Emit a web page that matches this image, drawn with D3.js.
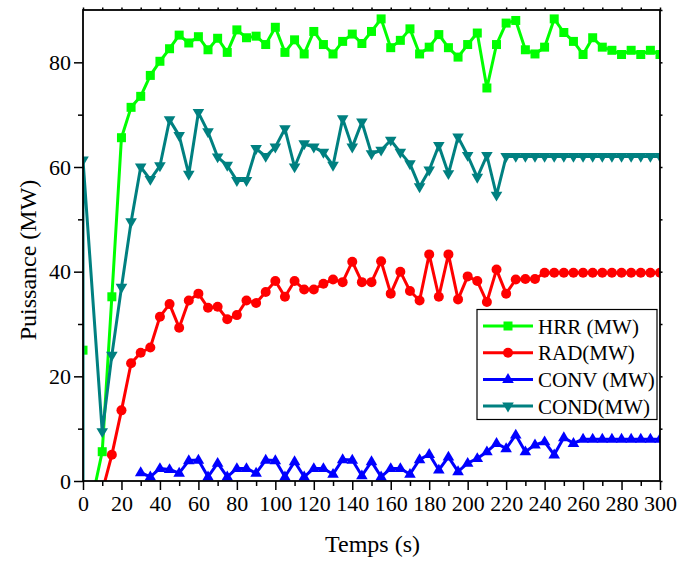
<!DOCTYPE html>
<html>
<head>
<meta charset="utf-8">
<script src="https://cdn.jsdelivr.net/npm/d3@7"></script>
<style>
  html, body { margin: 0; padding: 0; background: #fff; }
  svg { display: block; }
  text { font-family: "Liberation Serif", "Times New Roman", serif; fill: #000; }
</style>
</head>
<body>
<svg id="chart" width="679" height="561"></svg>
<script>
// Time in seconds, sampled every 5 s
const time = d3.range(0, 301, 5);

// Heat release rate (MW); first reading stands alone as a marker
const hrr = [25, -3, 5.6, 35.2, 65.6, 71.4, 73.5, 77.5, 80.2, 82.6,
  85.2, 83.7, 84.9, 82.4, 84.6, 81.9, 86.2, 84.7, 85.0, 83.4,
  86.7, 81.9, 84.3, 81.6, 85.9, 83.4, 81.6, 84.0, 85.4, 83.6,
  85.9, 88.3, 82.8, 84.2, 86.4, 81.6, 82.9, 85.3, 82.8, 81.0,
  83.4, 85.6, 75.1, 83.4, 87.5, 88.0, 82.4, 81.6, 82.9, 88.3,
  85.7, 84.0, 81.5, 84.7, 82.9, 82.3, 81.5, 82.3, 81.5, 82.3, 81.5];

// Radiative power (MW)
const rad = [null, null, -2, 5.0, 13.5, 22.5, 24.5, 25.5, 31.4, 33.8,
  29.3, 34.5, 35.8, 33.1, 33.3, 30.9, 31.7, 34.5, 34.0, 36.1,
  38.2, 35.2, 38.2, 36.6, 36.6, 37.7, 38.5, 38.0, 41.9, 38.0,
  38.0, 42.0, 35.8, 40.0, 36.3, 34.5, 43.3, 35.2, 43.3, 34.7,
  39.1, 38.2, 34.2, 40.4, 35.8, 38.5, 38.6, 38.6, 39.8, 39.8,
  39.8, 39.8, 39.8, 39.8, 39.8, 39.8, 39.8, 39.8, 39.8, 39.8, 39.8];

// Convective power (MW)
const conv = [null, null, null, null, null, null, 1.6, 0.8, 2.4, 2.2,
  1.5, 3.9, 4.0, 0.8, 3.4, 0.8, 2.4, 2.4, 1.5, 4.0,
  3.9, 0.8, 3.7, 0.8, 2.4, 2.4, 1.3, 4.1, 4.0, 1.0,
  3.7, 0.8, 2.4, 2.4, 1.3, 4.1, 5.1, 2.1, 4.6, 1.8,
  3.4, 4.3, 5.6, 7.2, 6.2, 8.8, 5.6, 6.9, 7.5, 5.0,
  8.3, 7.2, 8.0, 8.0, 8.0, 8.0, 8.0, 8.0, 8.0, 8.0, 8.0];

// Conductive power (MW); the trace rises from the axis at t = 0
const condBase = 0;
const cond = [61.3, null, 9.4, 24.0, 37.0, 49.5, 60.0, 57.6, 60.2, 69.0,
  66.0, 58.6, 70.4, 66.7, 61.9, 60.3, 57.4, 57.4, 63.5, 62.0,
  63.8, 67.3, 60.0, 64.4, 63.8, 62.8, 60.3, 69.2, 63.8, 68.6,
  62.5, 63.2, 65.1, 62.8, 60.6, 56.2, 59.4, 64.1, 58.7, 65.7,
  62.2, 58.0, 62.2, 54.6, 62.0, 62.0, 62.0, 62.0, 62.0, 62.0,
  62.0, 62.0, 62.0, 62.0, 62.0, 62.0, 62.0, 62.0, 62.0, 62.0, 62.0];

const seriesNames = ["HRR (MW)", "RAD(MW)", "CONV (MW)", "COND(MW)"];
const seriesColors = ["#00ff00", "#ff0000", "#0000ff", "#008080"];
const seriesShapes = ["square", "circle", "triangleUp", "triangleDown"];

const xTicks = d3.range(0, 301, 20);
const yTicks = d3.range(0, 81, 20);

(function draw() {
  const svg = d3.select("#chart");
  const pl = 83, pr = 660, pt = 10, pb = 481;

  const x = d3.scaleLinear().domain([0, 300]).range([pl, pr]);
  const y = d3.scaleLinear().domain([0, 90]).range([pb, pt]);

  svg.append("defs").append("clipPath").attr("id", "plotClip")
    .append("rect").attr("x", pl).attr("y", pt)
    .attr("width", pr - pl).attr("height", pb - pt);

  function markerPath(shape) {
    if (shape === "square") return "M-4.5,-4.5H4.5V4.5H-4.5Z";
    if (shape === "circle") return "M5,0A5,5 0 1,1 -5,0A5,5 0 1,1 5,0Z";
    if (shape === "triangleUp") return "M0,-6.3L5.8,3.6L-5.8,3.6Z";
    return "M0,6.3L5.8,-3.6L-5.8,-3.6Z";
  }

  const series = [
    { values: hrr, lineFrom: 1, lead: null },
    { values: rad, lineFrom: 0, lead: null },
    { values: conv, lineFrom: 0, lead: null },
    { values: cond, lineFrom: 0, lead: condBase }
  ].map((s, i) => {
    const pts = time.map((t, j) => ({ t, v: s.values[j], j })).filter(d => d.v !== null);
    let linePts = pts.filter(d => d.j >= s.lineFrom);
    if (s.lead !== null) linePts = [{ t: time[0], v: s.lead }].concat(linePts);
    return { name: seriesNames[i], color: seriesColors[i], shape: seriesShapes[i], pts, linePts };
  });

  const line = d3.line().x(d => x(d.t)).y(d => y(d.v));

  const plot = svg.append("g").attr("clip-path", "url(#plotClip)");
  series.forEach(s => {
    const g = plot.append("g");
    g.append("path").datum(s.linePts)
      .attr("d", line).attr("fill", "none")
      .attr("stroke", s.color).attr("stroke-width", 3)
      .attr("stroke-linejoin", "round");
    g.selectAll("path.mk").data(s.pts).join("path").attr("class", "mk")
      .attr("d", markerPath(s.shape))
      .attr("transform", d => `translate(${x(d.t)},${y(d.v)})`)
      .attr("fill", s.color);
  });

  // Axes
  const axisStyle = g => {
    g.select(".domain").remove();
    g.selectAll("line").attr("stroke", "#000").attr("stroke-width", 1.5);
    g.selectAll("text").style("font-family", '"Liberation Serif", "Times New Roman", serif')
      .style("font-size", "22px").attr("fill", "#000");
  };

  svg.append("g").attr("transform", `translate(0,${pb})`)
    .call(d3.axisBottom(x).tickValues(xTicks).tickSize(9).tickPadding(5).tickFormat(d3.format("d")))
    .call(axisStyle);
  svg.append("g").attr("transform", `translate(0,${pb})`)
    .call(d3.axisBottom(x).tickValues(d3.range(10, 300, 20)).tickSize(5).tickFormat(""))
    .call(axisStyle);

  svg.append("g").attr("transform", `translate(${pl},0)`)
    .call(d3.axisLeft(y).tickValues(yTicks).tickSize(9).tickPadding(3).tickFormat(d3.format("d")))
    .call(axisStyle);
  svg.append("g").attr("transform", `translate(${pl},0)`)
    .call(d3.axisLeft(y).tickValues([10, 30, 50, 70]).tickSize(5).tickFormat(""))
    .call(axisStyle);

  svg.append("g").attr("transform", `translate(0,${pt})`)
    .call(d3.axisTop(x).tickValues(d3.range(0, 301, 10)).tickSize(2.5).tickFormat(""))
    .call(axisStyle);
  svg.append("g").attr("transform", `translate(${pr},0)`)
    .call(d3.axisRight(y).tickValues(d3.range(0, 91, 10)).tickSize(2.5).tickFormat(""))
    .call(axisStyle);

  // Frame
  svg.append("rect").attr("x", pl).attr("y", pt)
    .attr("width", pr - pl).attr("height", pb - pt)
    .attr("fill", "none").attr("stroke", "#000").attr("stroke-width", 1.8);

  // Axis titles
  svg.append("text").attr("x", (pl + pr) / 2 + 1).attr("y", 552)
    .attr("text-anchor", "middle").style("font-size", "24px").text("Temps (s)");
  svg.append("text").attr("transform", "translate(36,260) rotate(-90)")
    .attr("text-anchor", "middle").style("font-size", "24px").text("Puissance (MW)");

  // Legend
  const lg = svg.append("g");
  lg.append("rect").attr("x", 477).attr("y", 309.5).attr("width", 180).attr("height", 110)
    .attr("fill", "#fff").attr("stroke", "#000").attr("stroke-width", 1.2);
  series.forEach((s, i) => {
    const ly = 326 + i * 26.7;
    lg.append("line").attr("x1", 483).attr("x2", 533).attr("y1", ly).attr("y2", ly)
      .attr("stroke", s.color).attr("stroke-width", 3);
    lg.append("path").attr("d", markerPath(s.shape))
      .attr("transform", `translate(508,${ly})`).attr("fill", s.color);
    lg.append("text").attr("x", 538).attr("y", ly + 7.5)
      .style("font-size", "21px").text(s.name);
  });
})();
</script>
</body>
</html>
